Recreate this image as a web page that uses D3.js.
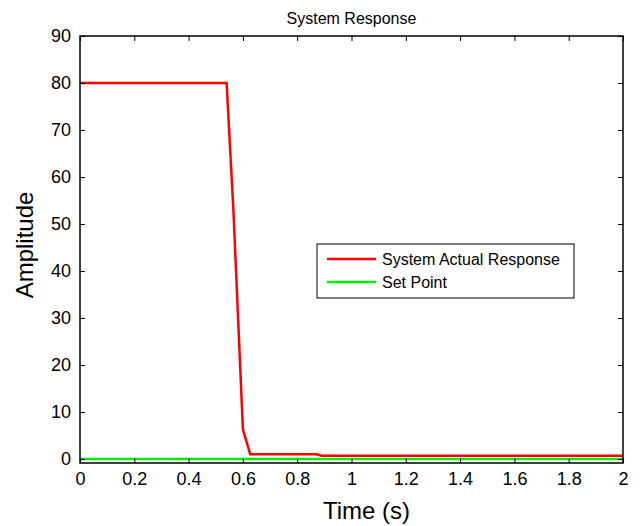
<!DOCTYPE html>
<html>
<head>
<meta charset="utf-8">
<script src="https://cdn.jsdelivr.net/npm/d3@7"></script>
<style>
	body { margin: 0; background: #fff; }
	text { font-family: "Liberation Sans", Arial, sans-serif; fill: #000; }
</style>
</head>
<body>
<svg id="chart" width="642" height="526"></svg>
<script>
	// data
	const actualT = [ 0, 0.54, 0.565, 0.6, 0.627, 0.87, 0.89, 2 ];
	const actualY = [ 80, 80, 53, 6.3, 1.0, 1.0, 0.7, 0.7 ];
	const setT = [ 0, 2 ];
	const setY = [ 0, 0 ];
	const xTicks = [ 0, 0.2, 0.4, 0.6, 0.8, 1, 1.2, 1.4, 1.6, 1.8, 2 ];
	const yTicks = [ 0, 10, 20, 30, 40, 50, 60, 70, 80, 90 ];
	const seriesNames = [ 'System Actual Response', 'Set Point' ];
	const seriesColors = [ '#ff0000', '#00ee00' ];

	( function() {
		let svg = d3.select( '#chart' ),
			pLeft = 80, pRight = 623, pTop = 36, pBottom = 463;

		let x = d3.scaleLinear().domain( [ 0, 2 ] ).range( [ pLeft, pRight ] ),
			y = d3.scaleLinear().domain( [ -0.85, 90 ] ).range( [ pBottom, pTop ] );

		// series
		let line = d3.line().x( d => x( d[ 0 ] ) ).y( d => y( d[ 1 ] ) );
		let series = [ d3.zip( actualT, actualY ), d3.zip( setT, setY ) ];

		// green drawn first so red sits on top
		[ 1, 0 ].forEach( i => {
			svg.append( 'path' )
				.datum( series[ i ] )
				.attr( 'd', line )
				.style( 'fill', 'none' )
				.style( 'stroke', seriesColors[ i ] )
				.style( 'stroke-width', 2.5 );
		} );

		// axes with inward ticks, MATLAB box style
		let axStyle = g => {
			g.selectAll( '.domain' ).remove();
			g.selectAll( 'line' ).style( 'stroke', '#000' ).style( 'stroke-width', 1 );
			g.selectAll( 'text' ).style( 'font-size', '18px' ).style( 'font-family', '"Liberation Sans", Arial, sans-serif' );
		};

		svg.append( 'g' ).attr( 'transform', 'translate(0,' + pBottom + ')' )
			.call( d3.axisBottom( x ).tickValues( xTicks ).tickFormat( d3.format( '' ) ).tickSizeInner( -5 ).tickPadding( 9 ) )
			.call( axStyle );
		svg.append( 'g' ).attr( 'transform', 'translate(0,' + pTop + ')' )
			.call( d3.axisTop( x ).tickValues( xTicks ).tickFormat( '' ).tickSizeInner( -5 ) )
			.call( axStyle );
		svg.append( 'g' ).attr( 'transform', 'translate(' + pLeft + ',0)' )
			.call( d3.axisLeft( y ).tickValues( yTicks ).tickSizeInner( -5 ).tickPadding( 9 ) )
			.call( axStyle );
		svg.append( 'g' ).attr( 'transform', 'translate(' + pRight + ',0)' )
			.call( d3.axisRight( y ).tickValues( yTicks ).tickFormat( '' ).tickSizeInner( -5 ) )
			.call( axStyle );

		svg.append( 'rect' )
			.attr( 'x', pLeft ).attr( 'y', pTop )
			.attr( 'width', pRight - pLeft ).attr( 'height', pBottom - pTop )
			.style( 'fill', 'none' ).style( 'stroke', '#000' ).style( 'stroke-width', 1.5 );

		// titles
		svg.append( 'text' ).attr( 'x', ( pLeft + pRight ) / 2 ).attr( 'y', 24 )
			.attr( 'text-anchor', 'middle' ).style( 'font-size', '16px' ).text( 'System Response' );
		svg.append( 'text' ).attr( 'x', ( pLeft + pRight ) / 2 + 15 ).attr( 'y', 519 )
			.attr( 'text-anchor', 'middle' ).style( 'font-size', '24px' ).text( 'Time (s)' );
		svg.append( 'text' ).attr( 'transform', 'translate(33,' + 245 + ') rotate(-90)' )
			.attr( 'text-anchor', 'middle' ).style( 'font-size', '24px' ).text( 'Amplitude' );

		// legend
		let legend = svg.append( 'g' ).attr( 'transform', 'translate(317,244)' );
		legend.append( 'rect' ).attr( 'width', 257 ).attr( 'height', 54 )
			.style( 'fill', '#fff' ).style( 'stroke', '#000' ).style( 'stroke-width', 1 );
		seriesNames.forEach( ( name, i ) => {
			let yy = 15 + i * 23;
			legend.append( 'line' ).attr( 'x1', 10 ).attr( 'x2', 59 ).attr( 'y1', yy ).attr( 'y2', yy )
				.style( 'stroke', seriesColors[ i ] ).style( 'stroke-width', 2.5 );
			legend.append( 'text' ).attr( 'x', 65 ).attr( 'y', yy + 5.5 )
				.style( 'font-size', '16px' ).text( name );
		} );
	} )();
</script>
</body>
</html>
